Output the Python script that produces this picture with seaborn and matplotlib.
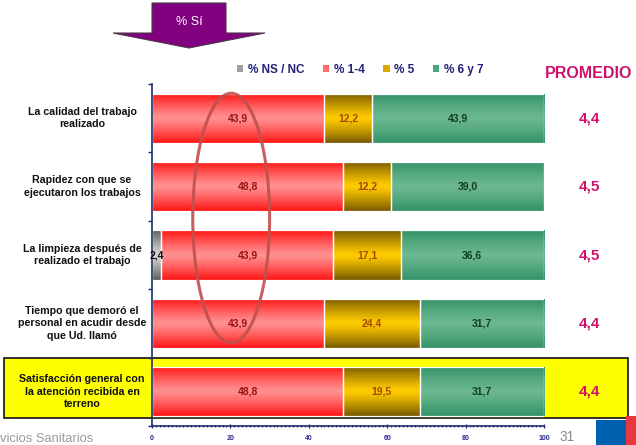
import numpy as np
import pandas as pd
import matplotlib
matplotlib.use("Agg")
import matplotlib.pyplot as plt
import seaborn as sns
from matplotlib.patches import Patch, Ellipse, Rectangle, Polygon
from matplotlib.colors import LinearSegmentedColormap
from matplotlib.transforms import blended_transform_factory

# ---- data -------------------------------------------------------------
categories = [
    "La calidad del trabajo\nrealizado",
    "Rapidez con que se\nejecutaron los trabajos",
    "La limpieza después de\nrealizado el trabajo",
    "Tiempo que demoró el\npersonal en acudir desde\nque Ud. llamó",
    "Satisfacción general con\nla atención recibida en\nterreno",
]
series_names = ["% NS / NC", "% 1-4", "% 5", "% 6 y 7"]
ns_nc = [0.0, 0.0, 2.4, 0.0, 0.0]
nota_1_4 = [43.9, 48.8, 43.9, 43.9, 48.8]
nota_5 = [12.2, 12.2, 17.1, 24.4, 19.5]
nota_6_7 = [43.9, 39.0, 36.6, 31.7, 31.7]
promedio = [4.4, 4.5, 4.5, 4.4, 4.4]
x_ticks = [0, 20, 40, 60, 80, 100]

# ---- styles -----------------------------------------------------------
# (edge colour, centre colour) of the vertical gradient of each series
gradients = [("#5e5e5e", "#d6d6d6"), ("#ff1414", "#ff9090"),
             ("#7a5a00", "#ffcc00"), ("#339366", "#6cb890")]
legend_colors = ["#a0a0a0", "#ff6a6a", "#d9aa00", "#4da57c"]
label_colors = ["#111111", "#9b1111", "#a4480a", "#0f3d20"]
navy = "#1f2f6e"
magenta = "#d0106c"

sns.set_style("white")
plt.rcParams["font.family"] = ["Liberation Sans", "DejaVu Sans"]

W, H = 636, 445
fig = plt.figure(figsize=(W / 100, H / 100), dpi=100)
ax = fig.add_axes([152 / W, 1 - 426 / H, 392 / W, 342 / H])
ax.patch.set_alpha(0)

def fmt(v):
    return f"{v:.1f}".replace(".", ",")

values = [ns_nc, nota_1_4, nota_5, nota_6_7]
lefts = np.cumsum([np.zeros(len(categories))] + [np.array(v) for v in values[:-1]], axis=0)
grad = np.abs(np.linspace(-1, 1, 80))[:, None] ** 1.2

for name, vals, left, (edge, center), tcol in zip(series_names, values, lefts,
                                                  gradients, label_colors):
    n0 = len(ax.patches)
    sns.barplot(x=vals, y=categories, order=categories, orient="h", color=center,
                saturation=1, width=0.72, errorbar=None, ax=ax,
                edgecolor="white", linewidth=0.9)
    bars = ax.patches[n0:]
    cmap = LinearSegmentedColormap.from_list(name, [center, edge])
    for b, l in zip(bars, left):
        b.set_x(l)
        if b.get_width() <= 0:
            continue
        x0, y0, w, h = b.get_x(), b.get_y(), b.get_width(), b.get_height()
        im = ax.imshow(grad, cmap=cmap, vmin=0, vmax=1, aspect="auto",
                       extent=[x0, x0 + w, y0 + h, y0], interpolation="bilinear",
                       zorder=1.5)
        im.set_clip_path(b)
        b.set_facecolor("none")
        b.set_zorder(2)
    ax.bar_label(ax.containers[-1], labels=[fmt(v) if v > 0 else "" for v in vals],
                 label_type="center", color=tcol, fontsize=7.5, fontweight="bold",
                 zorder=4)

# ---- axes -------------------------------------------------------------
ax.set_xlim(0, 100)
ax.set_ylim(len(categories) - 0.5, -0.5)
ax.set_xlabel("")
ax.set_ylabel("")
ax.set_xticks(x_ticks)
ax.set_xticklabels([str(t) for t in x_ticks])
ax.set_xticks(np.arange(0, 101, 1), minor=True)
ax.set_yticks(np.arange(-0.5, len(categories), 1))
ax.set_yticklabels([])
ax.tick_params(axis="x", which="major", length=3, width=1, direction="inout",
               colors=navy, labelsize=5, pad=5)
ax.tick_params(axis="x", which="minor", length=2, width=0.8, direction="inout",
               colors=navy)
ax.tick_params(axis="y", length=3, width=1, direction="out", colors=navy)
ax.tick_params(axis="y", left=True)
ax.tick_params(axis="x", bottom=True, which="both")
for lbl in ax.get_xticklabels():
    lbl.set_fontweight("bold")
    lbl.set_color("#2a2a8a")
for s in ["top", "right"]:
    ax.spines[s].set_visible(False)
for s in ["left", "bottom"]:
    ax.spines[s].set_color(navy)
    ax.spines[s].set_linewidth(1.2)

# category labels and averages
trans = blended_transform_factory(fig.transFigure, ax.transData)
for i, (cat, p) in enumerate(zip(categories, promedio)):
    ax.text(82 / W, i, cat, transform=trans, ha="center", va="center",
            fontsize=7.7, fontweight="bold", linespacing=1.3, color="#111111")
    ax.text(589 / W, i, fmt(p), transform=trans, ha="center", va="center",
            fontsize=11, fontweight="bold", color=magenta)
fig.text(589 / W, 1 - 73 / H, "PROMEDIO", ha="center", va="center",
         fontsize=11.5, fontweight="bold", color=magenta)

# highlight of the overall satisfaction row
fig.patches.append(Rectangle((4 / W, 1 - 418 / H), 624 / W, 60 / H,
                             transform=fig.transFigure, facecolor="#ffff00",
                             edgecolor="#111111", linewidth=1.2, zorder=-1))

# ellipse around the "% 1-4" column
ax.add_patch(Ellipse((20.2, 1.46), 19.6, 3.65, facecolor="none",
                     edgecolor="#c0504d", linewidth=2.2, alpha=0.9, zorder=3))

# legend
handles = [Patch(facecolor=c, edgecolor="none", label=n)
           for n, c in zip(series_names, legend_colors)]
ax.legend(handles=handles, loc="center", bbox_to_anchor=(360 / W, 1 - 70 / H),
          bbox_transform=fig.transFigure, ncol=4, frameon=False,
          prop={"weight": "bold", "size": 8.5}, labelcolor="#22227a",
          handlelength=0.55, handleheight=0.55, handletextpad=0.35,
          columnspacing=1.6)

# "% Sí" arrow
arrow_pts = [(152, 3), (226, 3), (226, 33), (265, 33), (189, 48), (113, 33), (152, 33)]
fig.patches.append(Polygon([(x / W, 1 - y / H) for x, y in arrow_pts],
                           closed=True, transform=fig.transFigure,
                           facecolor="#800080", edgecolor="#4a3a4a", linewidth=0.8))
fig.text(189 / W, 1 - 22 / H, "% Sí", ha="center", va="center",
         fontsize=9, color="white")

# footer
fig.text(0, 1 - 439 / H, "vicios Sanitarios", ha="left", va="center",
         fontsize=9.3, color="#9a9a9a")
fig.text(567 / W, 1 - 437 / H, "31", ha="center", va="center",
         fontsize=9.8, color="#8a8a8a")
fig.patches.append(Rectangle((596 / W, 0), 30 / W, (445 - 420) / H,
                             transform=fig.transFigure, facecolor="#0060b0",
                             edgecolor="none"))
fig.patches.append(Rectangle((626 / W, 0), 10 / W, (445 - 416) / H,
                             transform=fig.transFigure, facecolor="#e8383d",
                             edgecolor="none"))

fig.savefig("out.png", dpi=100)
